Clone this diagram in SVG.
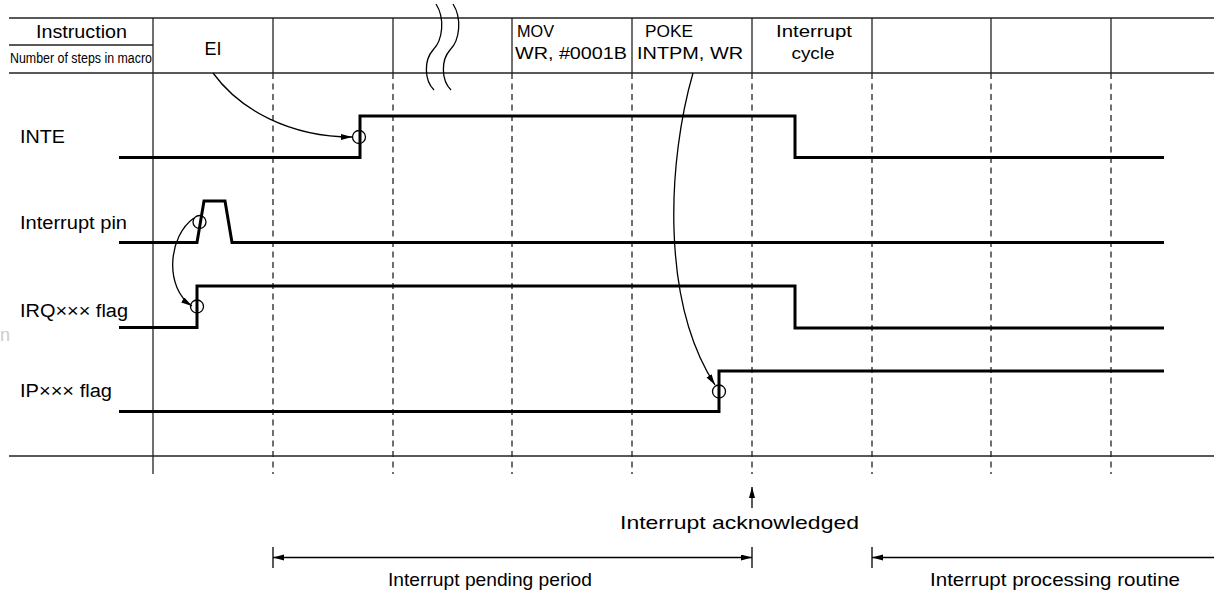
<svg xmlns="http://www.w3.org/2000/svg" width="1214" height="597" viewBox="0 0 1214 597">
<style>
  text { font-family: "Liberation Sans", Arial, Helvetica, sans-serif; fill: #000; }
  .thin { stroke: #222; stroke-width: 1.3; fill: none; }
  .dash { stroke: #222; stroke-width: 1.3; fill: none; stroke-dasharray: 6 4.5; }
  .wave { stroke: #000; stroke-width: 3; fill: none; stroke-linejoin: miter; stroke-linecap: butt; }
  .ring { stroke: #000; stroke-width: 1.3; fill: none; }
  .conn { stroke: #000; stroke-width: 1.3; fill: none; }
  .h16 { font-size: 16px; }
  .h18 { font-size: 18px; }
  .h19 { font-size: 19px; }
</style>
<defs>
  <marker id="arr" markerUnits="userSpaceOnUse" markerWidth="12" markerHeight="8" refX="11" refY="3" orient="auto-start-reverse">
    <path d="M0,0 L11,3 L0,6 z" fill="#000"/>
  </marker>
</defs>
<rect width="1214" height="597" fill="#fff"/>

<g id="header">
  <line class="thin" x1="9" y1="18" x2="1214" y2="18"/>
  <line class="thin" x1="9" y1="45" x2="153" y2="45"/>
  <line class="thin" x1="9" y1="73" x2="1214" y2="73"/>
  <line class="thin" x1="153" y1="18" x2="153" y2="474"/>
  <line class="thin" x1="273" y1="18" x2="273" y2="73"/>
  <line class="thin" x1="393" y1="18" x2="393" y2="73"/>
  <line class="thin" x1="512" y1="18" x2="512" y2="73"/>
  <line class="thin" x1="632" y1="18" x2="632" y2="73"/>
  <line class="thin" x1="752" y1="18" x2="752" y2="73"/>
  <line class="thin" x1="872" y1="18" x2="872" y2="73"/>
  <line class="thin" x1="991" y1="18" x2="991" y2="73"/>
  <line class="thin" x1="1111" y1="18" x2="1111" y2="73"/>
  <text class="h18" x="36" y="38" textLength="91" lengthAdjust="spacingAndGlyphs">Instruction</text>
  <text x="10" y="63" font-size="14" textLength="142" lengthAdjust="spacingAndGlyphs">Number of steps in macro</text>
  <text class="h18" x="213" y="55" text-anchor="middle">EI</text>
  <text class="h16" x="517" y="37" textLength="37" lengthAdjust="spacingAndGlyphs">MOV</text>
  <text class="h16" x="515" y="59" textLength="112" lengthAdjust="spacingAndGlyphs">WR, #0001B</text>
  <text class="h16" x="645" y="37" textLength="48" lengthAdjust="spacingAndGlyphs">POKE</text>
  <text class="h16" x="637" y="59" textLength="106" lengthAdjust="spacingAndGlyphs">INTPM, WR</text>
  <text class="h16" x="776" y="37" textLength="76" lengthAdjust="spacingAndGlyphs">Interrupt</text>
  <text class="h16" x="813" y="59" text-anchor="middle" textLength="43" lengthAdjust="spacingAndGlyphs">cycle</text>
</g>

<g id="break-marks">
  <path class="conn" d="M436,4 C445,18 443,40 433,50 C424,60 424,80 434,90"/>
  <path class="conn" d="M453,4 C462,18 460,40 450,50 C441,60 441,80 451,90"/>
</g>

<g id="grid">
  <line class="dash" x1="273" y1="73" x2="273" y2="474"/>
  <line class="dash" x1="393" y1="73" x2="393" y2="474"/>
  <line class="dash" x1="512" y1="73" x2="512" y2="474"/>
  <line class="dash" x1="632" y1="73" x2="632" y2="474"/>
  <line class="dash" x1="752" y1="73" x2="752" y2="474"/>
  <line class="dash" x1="872" y1="73" x2="872" y2="474"/>
  <line class="dash" x1="991" y1="73" x2="991" y2="474"/>
  <line class="dash" x1="1111" y1="73" x2="1111" y2="474"/>
  <line class="thin" x1="9" y1="456" x2="1214" y2="456"/>
</g>

<g id="INTE">
  <text class="h18" x="20" y="143" textLength="45" lengthAdjust="spacingAndGlyphs">INTE</text>
  <polyline class="wave" points="119,157.5 360,157.5 360,116 795,116 795,157.5 1164,157.5"/>
  <circle class="ring" cx="359" cy="137" r="6.5"/>
</g>

<g id="interrupt-pin">
  <text class="h18" x="20" y="229" textLength="107" lengthAdjust="spacingAndGlyphs">Interrupt pin</text>
  <polyline class="wave" points="119,242.5 197,242.5 204,201 225,201 232,242.5 1164,242.5"/>
  <circle class="ring" cx="199.5" cy="222" r="6.5"/>
</g>

<g id="IRQ-flag">
  <text class="h18" x="20" y="317" textLength="108" lengthAdjust="spacingAndGlyphs">IRQ××× flag</text>
  <polyline class="wave" points="119,327.5 197,327.5 197,286 795,286 795,328 1164,328"/>
  <circle class="ring" cx="197" cy="306.5" r="6.5"/>
</g>

<g id="IP-flag">
  <text class="h18" x="20" y="397" textLength="92" lengthAdjust="spacingAndGlyphs">IP××× flag</text>
  <polyline class="wave" points="119,411.5 719,411.5 719,371 1164,371"/>
  <circle class="ring" cx="719" cy="391.5" r="6.5"/>
</g>

<g id="connectors">
  <path class="conn" d="M213,73 C240,110 290,137 352,137" marker-end="url(#arr)"/>
  <path class="conn" d="M194,218 C168,236 164,288 192,306" marker-end="url(#arr)"/>
  <path class="conn" d="M693,73 C668,160 660,300 715,385" marker-end="url(#arr)"/>
  <line class="conn" x1="752" y1="508" x2="752" y2="487" marker-end="url(#arr)"/>
  <line class="conn" x1="273" y1="547" x2="273" y2="568"/>
  <line class="conn" x1="752" y1="547" x2="752" y2="568"/>
  <line class="conn" x1="273" y1="557.5" x2="752" y2="557.5" marker-start="url(#arr)" marker-end="url(#arr)"/>
  <line class="conn" x1="872" y1="547" x2="872" y2="568"/>
  <line class="conn" x1="1214" y1="557.5" x2="872" y2="557.5" marker-end="url(#arr)"/>
</g>

<g id="annotations">
  <text class="h19" x="620" y="529" textLength="239" lengthAdjust="spacingAndGlyphs">Interrupt acknowledged</text>
  <text class="h19" x="388" y="586" textLength="204" lengthAdjust="spacingAndGlyphs">Interrupt pending period</text>
  <text class="h19" x="930" y="586" textLength="250" lengthAdjust="spacingAndGlyphs">Interrupt processing routine</text>
  <text x="0" y="341" font-size="18" fill="#cccccc" style="fill:#cccccc">n</text>
</g>
</svg>
